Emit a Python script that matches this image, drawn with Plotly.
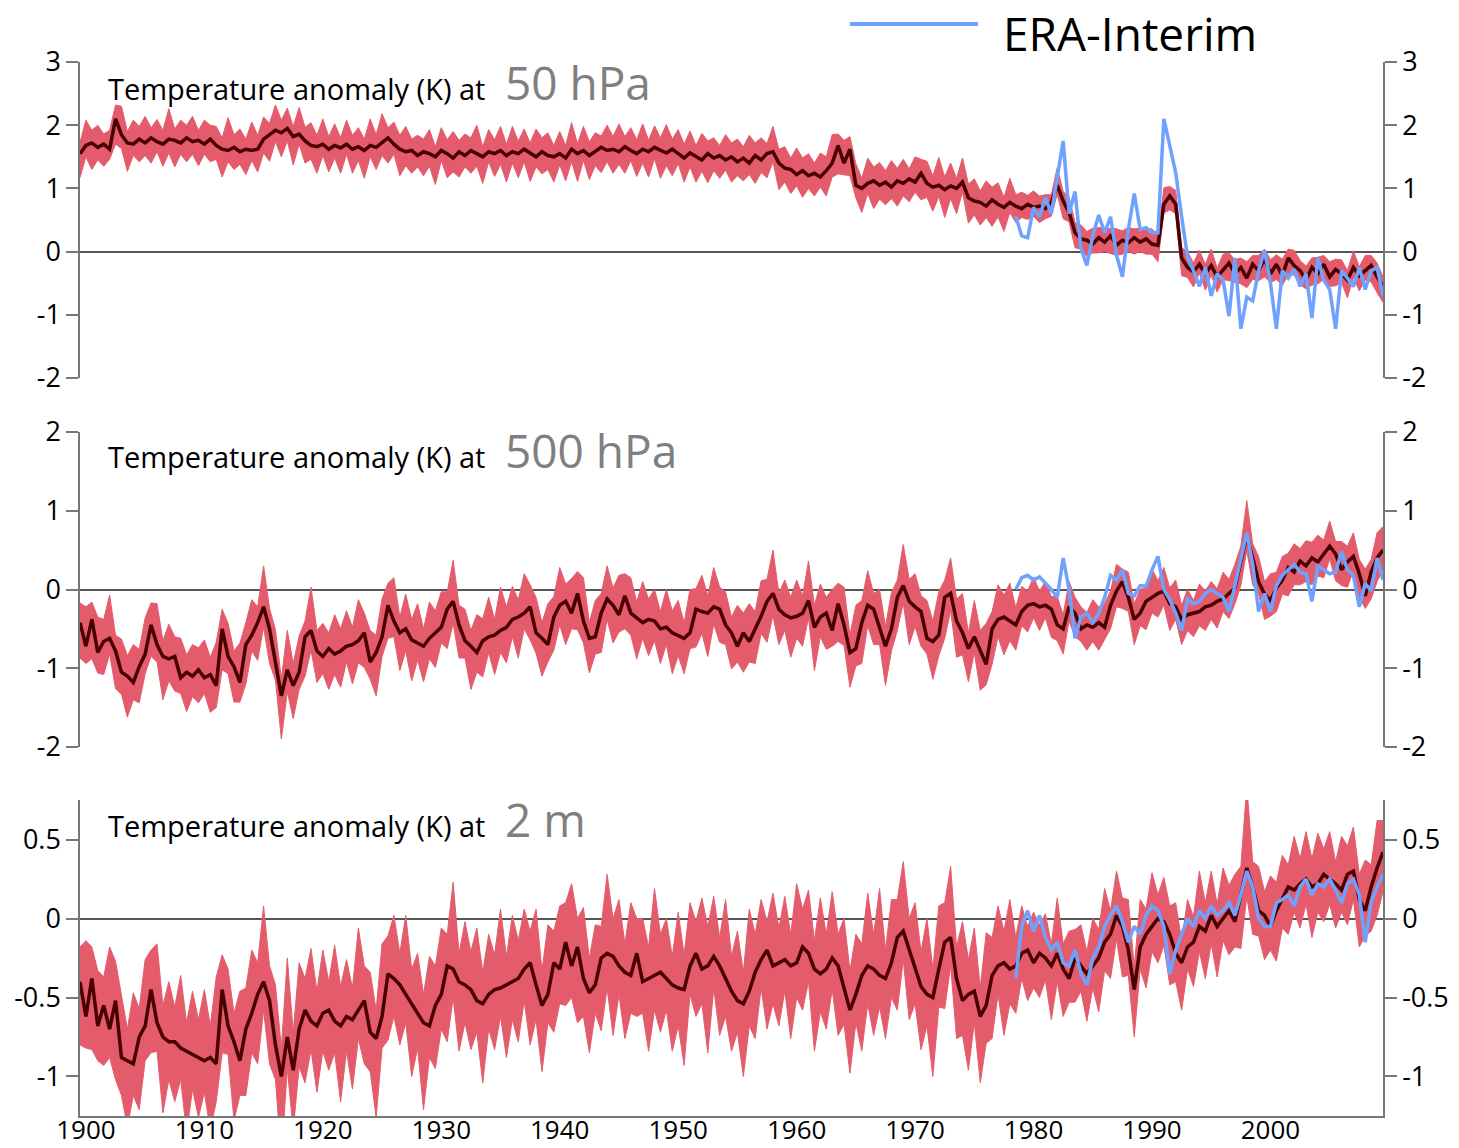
import numpy as np
import plotly.graph_objects as go

# ---------------------------------------------------------------------------
# Data: half-yearly values, 1900.0 .. 2010.0 (221 points per series)
# ---------------------------------------------------------------------------
T0, DT = 1900.0, 0.5
ERA_T0 = 1979.0

# ---- 50 hPa -------------------------------------------------------------
mean_50 = [
    1.55, 1.68, 1.72, 1.65, 1.70, 1.62, 2.10, 1.85, 1.72, 1.70,
    1.78, 1.72, 1.80, 1.74, 1.70, 1.78, 1.76, 1.72, 1.80, 1.74,
    1.76, 1.70, 1.78, 1.68, 1.62, 1.60, 1.65, 1.58, 1.62, 1.60,
    1.62, 1.78, 1.85, 1.92, 1.88, 1.95, 1.82, 1.86, 1.75, 1.68,
    1.66, 1.70, 1.62, 1.68, 1.64, 1.70, 1.62, 1.66, 1.60, 1.68,
    1.65, 1.72, 1.80, 1.70, 1.62, 1.58, 1.60, 1.52, 1.58, 1.55,
    1.50, 1.60, 1.55, 1.48, 1.58, 1.52, 1.60, 1.55, 1.50, 1.58,
    1.55, 1.60, 1.52, 1.58, 1.55, 1.62, 1.56, 1.50, 1.58, 1.52,
    1.50, 1.55, 1.48, 1.62, 1.55, 1.60, 1.52, 1.58, 1.65, 1.60,
    1.62, 1.58, 1.66, 1.60, 1.55, 1.62, 1.58, 1.65, 1.60, 1.56,
    1.62, 1.55, 1.48, 1.56, 1.50, 1.45, 1.55, 1.48, 1.52, 1.45,
    1.50, 1.42, 1.48, 1.40, 1.52, 1.45, 1.55, 1.58, 1.40, 1.32,
    1.30, 1.22, 1.28, 1.20, 1.24, 1.18, 1.28, 1.40, 1.68, 1.40,
    1.62, 1.05, 1.00, 1.08, 1.12, 1.05, 1.10, 1.02, 1.12, 1.08,
    1.15, 1.10, 1.24, 1.08, 1.02, 1.05, 0.98, 1.04, 1.00, 1.10,
    0.85, 0.80, 0.78, 0.72, 0.82, 0.75, 0.70, 0.78, 0.72, 0.68,
    0.75, 0.70, 0.72, 0.68, 0.78, 1.05, 0.80, 0.62, 0.30, 0.20,
    0.18, 0.12, 0.22, 0.15, 0.25, 0.10, 0.18, 0.14, 0.22, 0.15,
    0.20, 0.12, 0.10, 0.75, 0.88, 0.75, -0.10, -0.25, -0.32, -0.20,
    -0.35, -0.22, -0.40, -0.28, -0.18, -0.35, -0.25, -0.42, -0.20, -0.30,
    -0.12, -0.35, -0.20, -0.38, -0.10, -0.22, -0.30, -0.45, -0.25, -0.35,
    -0.20, -0.40, -0.28, -0.35, -0.45, -0.25, -0.38, -0.30, -0.22, -0.40,
    -0.55,
]
spread_hi_50 = [
    .18, .40, .20, .35, .16, .30, .22, .45, .18, .38,
    .20, .42, .16, .35, .22, .48, .18, .36, .20, .40,
    .16, .38, .22, .30, .18, .52, .20, .36, .16, .45,
    .22, .35, .18, .40, .20, .32, .16, .42, .22, .36,
    .18, .40, .20, .34, .16, .38, .22, .30, .18, .42,
    .20, .46, .16, .35, .22, .40, .18, .32, .20, .38,
    .16, .36, .22, .42, .18, .34, .20, .45, .16, .35,
    .22, .38, .18, .40, .20, .32, .16, .44, .22, .36,
    .18, .35, .20, .42, .16, .38, .22, .30, .18, .40,
    .20, .44, .16, .36, .22, .40, .18, .34, .20, .45,
    .16, .38, .22, .35, .18, .42, .20, .32, .16, .40,
    .22, .36, .18, .44, .20, .35, .16, .40, .22, .34,
    .18, .42, .20, .35, .16, .38, .22, .45, .18, .36,
    .20, .34, .16, .40, .22, .36, .18, .42, .20, .38,
    .16, .40, .22, .35, .18, .44, .20, .36, .16, .38,
    .22, .35, .18, .40, .20, .34, .16, .38, .18, .26,
    .14, .26, .16, .22, .12, .28, .15, .24, .16, .22,
    .14, .25, .16, .22, .12, .26, .15, .24, .14, .22,
    .16, .24, .14, .26, .15, .22, .16, .25, .14, .22,
    .15, .26, .14, .24, .16, .22, .15, .26, .14, .24,
    .16, .22, .15, .26, .14, .24, .16, .22, .15, .26,
    .14, .24, .16, .22, .15, .26, .14, .24, .16, .22,
    .15,
]
spread_lo_50 = [
    .38, .18, .42, .20, .35, .16, .40, .22, .45, .18,
    .36, .20, .40, .16, .35, .22, .42, .18, .38, .20,
    .40, .16, .36, .22, .44, .18, .35, .20, .40, .16,
    .36, .22, .42, .18, .38, .20, .45, .16, .35, .22,
    .42, .18, .36, .20, .40, .16, .38, .22, .44, .18,
    .35, .20, .40, .16, .42, .22, .36, .18, .38, .20,
    .44, .16, .38, .22, .40, .18, .36, .20, .42, .16,
    .36, .22, .42, .18, .38, .20, .45, .16, .35, .22,
    .40, .18, .36, .20, .44, .16, .38, .22, .40, .18,
    .38, .20, .42, .16, .36, .22, .40, .18, .44, .20,
    .42, .16, .38, .22, .40, .18, .46, .20, .36, .16,
    .40, .22, .36, .18, .44, .20, .38, .16, .42, .22,
    .38, .18, .42, .20, .36, .16, .40, .22, .45, .18,
    .42, .20, .38, .16, .44, .22, .36, .18, .40, .20,
    .36, .16, .42, .22, .38, .18, .44, .20, .40, .16,
    .40, .22, .36, .18, .42, .20, .38, .16, .26, .14,
    .24, .14, .26, .16, .22, .14, .28, .15, .24, .16,
    .26, .14, .24, .15, .28, .16, .22, .14, .26, .15,
    .24, .16, .26, .14, .22, .15, .28, .16, .24, .14,
    .26, .15, .24, .16, .28, .14, .26, .15, .24, .16,
    .28, .14, .24, .16, .26, .15, .22, .14, .28, .16,
    .24, .15, .26, .14, .28, .16, .24, .15, .26, .25,
    .25,
]
era_50 = [
    0.56, 0.25, 0.22, 0.70, 0.55, 0.85, 0.60, 1.20, 1.75, 0.60,
    0.95, 0.05, -0.22, 0.25, 0.58, 0.30, 0.55, -0.05, -0.40, 0.35,
    0.92, 0.35, 0.38, 0.30, 0.30, 2.10, 1.65, 1.25, 0.55, -0.08,
    -0.30, -0.55, -0.25, -0.70, -0.35, -0.45, -1.02, -0.10, -1.22, -0.72,
    -0.78, -0.30, 0.02, -0.50, -1.22, -0.30, -0.42, -0.28, -0.55, -0.35,
    -1.05, -0.10, -0.45, -0.60, -1.22, -0.30, -0.42, -0.55, -0.25, -0.60,
    -0.30, -0.25, -0.70,
]

# ---- 500 hPa ------------------------------------------------------------
mean_500 = [
    -0.42, -0.72, -0.38, -0.80, -0.66, -0.62, -0.78, -1.05, -1.10, -1.18,
    -0.98, -0.82, -0.45, -0.70, -0.85, -0.88, -0.85, -1.12, -1.05, -1.10,
    -1.02, -1.12, -1.08, -1.22, -0.50, -0.85, -0.98, -1.18, -0.70, -0.58,
    -0.42, -0.22, -0.50, -0.95, -1.35, -1.02, -1.22, -1.05, -0.60, -0.52,
    -0.78, -0.85, -0.75, -0.82, -0.78, -0.72, -0.70, -0.65, -0.55, -0.92,
    -0.80, -0.60, -0.20, -0.40, -0.55, -0.50, -0.64, -0.68, -0.72, -0.62,
    -0.55, -0.48, -0.25, -0.15, -0.45, -0.65, -0.72, -0.80, -0.65, -0.60,
    -0.58, -0.52, -0.48, -0.38, -0.35, -0.30, -0.22, -0.55, -0.62, -0.70,
    -0.35, -0.20, -0.15, -0.30, -0.05, -0.40, -0.62, -0.60, -0.30, -0.12,
    -0.20, -0.32, -0.08, -0.30, -0.36, -0.42, -0.38, -0.40, -0.50, -0.48,
    -0.55, -0.58, -0.62, -0.55, -0.25, -0.28, -0.30, -0.22, -0.25, -0.45,
    -0.55, -0.72, -0.55, -0.66, -0.50, -0.34, -0.15, -0.05, -0.25, -0.32,
    -0.36, -0.34, -0.30, -0.14, -0.48, -0.35, -0.30, -0.52, -0.18, -0.45,
    -0.80, -0.75, -0.42, -0.20, -0.25, -0.50, -0.72, -0.50, -0.10, 0.05,
    -0.15, -0.22, -0.28, -0.62, -0.66, -0.58, -0.10, -0.05, -0.40, -0.55,
    -0.75, -0.60, -0.78, -0.95, -0.50, -0.38, -0.35, -0.40, -0.45, -0.28,
    -0.20, -0.18, -0.22, -0.20, -0.25, -0.45, -0.50, -0.22, -0.30, -0.50,
    -0.45, -0.48, -0.42, -0.48, -0.20, -0.02, 0.10, -0.10, -0.38, -0.30,
    -0.15, -0.10, -0.05, -0.02, -0.18, -0.22, -0.38, -0.32, -0.30, -0.28,
    -0.22, -0.20, -0.15, -0.12, -0.05, 0.02, 0.35, 0.68, 0.40, 0.10,
    -0.06, -0.14, 0.02, 0.12, 0.28, 0.22, 0.36, 0.30, 0.40, 0.35,
    0.45, 0.55, 0.45, 0.25, 0.35, 0.42, 0.20, -0.08, 0.22, 0.40,
    0.50,
]
spread_hi_500 = [
    .25, .50, .22, .45, .28, .55, .20, .42, .26, .48,
    .22, .46, .28, .52, .20, .44, .25, .50, .22, .40,
    .28, .48, .22, .55, .25, .42, .20, .50, .28, .45,
    .20, .52, .26, .44, .22, .50, .28, .46, .20, .55,
    .26, .42, .20, .50, .28, .45, .22, .52, .25, .40,
    .22, .48, .28, .55, .20, .44, .26, .50, .22, .46,
    .28, .45, .22, .52, .25, .40, .20, .48, .28, .50,
    .20, .55, .26, .42, .22, .50, .28, .45, .20, .52,
    .26, .48, .22, .44, .28, .55, .20, .46, .25, .42,
    .22, .50, .28, .45, .20, .52, .26, .40, .22, .48,
    .28, .44, .20, .55, .26, .46, .22, .50, .28, .42,
    .20, .52, .25, .48, .22, .45, .28, .55, .20, .44,
    .26, .46, .22, .50, .28, .42, .20, .52, .26, .48,
    .22, .55, .28, .44, .20, .50, .25, .46, .22, .52,
    .28, .42, .20, .48, .26, .55, .22, .45, .28, .50,
    .20, .46, .26, .52, .22, .44, .28, .48, .22, .32,
    .18, .34, .20, .30, .16, .36, .18, .32, .20, .28,
    .16, .35, .20, .30, .18, .34, .16, .32, .20, .30,
    .18, .36, .16, .30, .20, .34, .18, .32, .16, .35,
    .20, .30, .16, .34, .18, .30, .20, .45, .18, .32,
    .16, .34, .20, .30, .18, .36, .16, .32, .20, .34,
    .18, .32, .16, .36, .20, .30, .18, .34, .16, .32,
    .30,
]
spread_lo_500 = [
    .45, .22, .50, .26, .42, .20, .48, .28, .52, .22,
    .46, .25, .40, .22, .55, .28, .44, .20, .50, .26,
    .42, .20, .48, .28, .52, .22, .45, .25, .50, .20,
    .48, .26, .44, .20, .55, .28, .42, .22, .50, .25,
    .40, .22, .52, .26, .46, .20, .50, .28, .44, .22,
    .55, .25, .42, .20, .48, .28, .52, .22, .45, .26,
    .44, .20, .50, .28, .42, .22, .55, .25, .46, .20,
    .50, .28, .45, .22, .52, .20, .42, .26, .48, .22,
    .42, .25, .55, .20, .46, .28, .44, .22, .50, .26,
    .48, .22, .42, .28, .52, .20, .46, .25, .44, .22,
    .52, .26, .45, .20, .48, .28, .55, .22, .42, .25,
    .46, .20, .50, .26, .44, .22, .52, .28, .45, .20,
    .50, .28, .42, .22, .55, .25, .46, .20, .48, .26,
    .44, .22, .52, .26, .45, .20, .50, .28, .42, .22,
    .55, .25, .44, .20, .48, .26, .52, .22, .46, .28,
    .42, .20, .50, .26, .45, .22, .48, .25, .32, .18,
    .34, .18, .30, .16, .36, .20, .32, .18, .30, .16,
    .32, .18, .35, .16, .30, .20, .34, .18, .32, .16,
    .36, .20, .30, .18, .34, .16, .32, .20, .30, .18,
    .30, .18, .34, .16, .32, .20, .30, .18, .34, .16,
    .32, .20, .30, .18, .36, .16, .30, .20, .34, .18,
    .30, .16, .34, .20, .32, .18, .30, .16, .34, .30,
    .25,
]
era_500 = [
    0.00, 0.15, 0.18, 0.12, 0.16, 0.08, 0.00, -0.10, 0.40, 0.00,
    -0.62, -0.35, -0.30, -0.42, -0.30, -0.10, 0.18, 0.12, 0.25, -0.05,
    -0.08, 0.05, 0.04, 0.25, 0.42, 0.00, -0.13, -0.30, -0.52, -0.12,
    -0.18, -0.15, -0.05, 0.00, -0.05, -0.10, -0.28, 0.05, 0.35, 0.72,
    0.32, -0.28, -0.05, -0.28, 0.05, 0.18, 0.25, 0.32, 0.22, 0.20,
    -0.15, 0.30, 0.25, 0.20, 0.22, 0.48, 0.25, 0.18, -0.22, 0.08,
    -0.02, 0.40, 0.12,
]

# ---- 2 m ----------------------------------------------------------------
mean_2m = [
    -0.40, -0.62, -0.38, -0.68, -0.55, -0.70, -0.52, -0.88, -0.90, -0.92,
    -0.75, -0.68, -0.45, -0.66, -0.75, -0.78, -0.78, -0.82, -0.84, -0.86,
    -0.88, -0.90, -0.88, -0.92, -0.45, -0.68, -0.78, -0.90, -0.70, -0.60,
    -0.48, -0.40, -0.52, -0.80, -1.00, -0.75, -0.96, -0.70, -0.58, -0.65,
    -0.68, -0.60, -0.58, -0.65, -0.68, -0.62, -0.64, -0.58, -0.52, -0.72,
    -0.76, -0.62, -0.35, -0.38, -0.42, -0.48, -0.54, -0.60, -0.66, -0.68,
    -0.55, -0.48, -0.30, -0.32, -0.40, -0.42, -0.45, -0.52, -0.54, -0.48,
    -0.45, -0.44, -0.42, -0.40, -0.38, -0.32, -0.28, -0.42, -0.55, -0.48,
    -0.28, -0.32, -0.15, -0.30, -0.18, -0.38, -0.47, -0.42, -0.25, -0.22,
    -0.24, -0.30, -0.34, -0.36, -0.22, -0.40, -0.38, -0.36, -0.34, -0.38,
    -0.42, -0.44, -0.45, -0.30, -0.22, -0.32, -0.30, -0.24, -0.30, -0.38,
    -0.46, -0.52, -0.54, -0.46, -0.34, -0.26, -0.20, -0.30, -0.28, -0.26,
    -0.30, -0.28, -0.18, -0.22, -0.32, -0.35, -0.32, -0.25, -0.30, -0.45,
    -0.58, -0.48, -0.36, -0.30, -0.32, -0.36, -0.38, -0.28, -0.12, -0.08,
    -0.20, -0.32, -0.43, -0.48, -0.50, -0.32, -0.15, -0.12, -0.38, -0.52,
    -0.48, -0.46, -0.62, -0.55, -0.36, -0.30, -0.28, -0.32, -0.30, -0.22,
    -0.20, -0.28, -0.22, -0.25, -0.30, -0.22, -0.32, -0.38, -0.25, -0.30,
    -0.35, -0.30, -0.25, -0.15, -0.10, 0.02, -0.05, -0.20, -0.45, -0.18,
    -0.10, -0.05, 0.00, -0.02, -0.10, -0.22, -0.28, -0.18, -0.15, -0.05,
    -0.08, 0.02, -0.05, 0.00, 0.05, -0.02, 0.15, 0.32, 0.20, 0.05,
    0.02, -0.05, 0.05, 0.12, 0.20, 0.18, 0.22, 0.25, 0.20, 0.22,
    0.28, 0.25, 0.22, 0.18, 0.28, 0.30, 0.12, 0.05, 0.20, 0.32,
    0.42,
]
spread_hi_2m = [
    .22, .48, .20, .35, .18, .52, .25, .40, .20, .45,
    .18, .42, .25, .50, .20, .38, .22, .46, .18, .40,
    .24, .45, .20, .55, .22, .36, .18, .44, .26, .40,
    .20, .48, .22, .38, .18, .50, .24, .42, .20, .46,
    .22, .40, .18, .48, .25, .36, .20, .52, .22, .38,
    .18, .46, .24, .40, .20, .50, .22, .38, .18, .44,
    .25, .42, .20, .55, .18, .40, .24, .46, .20, .38,
    .22, .50, .18, .42, .24, .38, .20, .48, .22, .44,
    .20, .40, .25, .52, .18, .45, .22, .38, .20, .50,
    .24, .42, .18, .46, .22, .40, .20, .55, .24, .38,
    .18, .48, .22, .40, .20, .45, .25, .38, .18, .50,
    .22, .44, .20, .52, .24, .38, .18, .46, .22, .40,
    .20, .50, .24, .40, .18, .48, .22, .42, .20, .45,
    .25, .38, .20, .46, .22, .55, .18, .40, .24, .44,
    .20, .42, .22, .48, .18, .40, .25, .45, .20, .50,
    .22, .40, .18, .46, .24, .38, .20, .44, .18, .30,
    .15, .32, .18, .28, .14, .35, .16, .30, .18, .26,
    .14, .30, .18, .34, .15, .28, .18, .32, .14, .30,
    .16, .34, .15, .28, .18, .32, .14, .30, .16, .35,
    .18, .28, .14, .32, .16, .30, .18, .52, .16, .28,
    .15, .32, .18, .28, .14, .34, .16, .30, .18, .32,
    .16, .30, .14, .34, .18, .28, .16, .32, .14, .30,
    .20,
]
spread_lo_2m = [
    .40, .20, .45, .22, .38, .18, .50, .24, .42, .20,
    .46, .22, .40, .18, .48, .24, .38, .20, .52, .22,
    .38, .20, .46, .24, .40, .18, .50, .22, .42, .25,
    .44, .18, .40, .22, .52, .20, .38, .24, .46, .18,
    .42, .24, .38, .20, .48, .22, .44, .18, .40, .25,
    .50, .20, .42, .24, .38, .18, .46, .22, .55, .20,
    .40, .22, .48, .18, .44, .24, .38, .20, .50, .22,
    .38, .18, .46, .24, .40, .20, .52, .22, .42, .18,
    .44, .22, .40, .20, .48, .24, .38, .18, .46, .22,
    .50, .18, .42, .24, .40, .20, .46, .22, .38, .20,
    .42, .24, .48, .18, .40, .22, .55, .20, .44, .24,
    .38, .20, .46, .22, .42, .18, .50, .24, .40, .20,
    .46, .22, .40, .18, .52, .24, .38, .20, .44, .22,
    .40, .18, .48, .24, .42, .20, .38, .22, .46, .18,
    .44, .22, .40, .20, .50, .24, .42, .18, .38, .22,
    .48, .20, .42, .24, .40, .18, .46, .22, .30, .16,
    .32, .16, .28, .14, .34, .18, .30, .15, .28, .16,
    .30, .14, .34, .18, .28, .15, .32, .16, .30, .14,
    .34, .16, .28, .15, .32, .18, .30, .14, .28, .16,
    .30, .18, .32, .14, .28, .16, .34, .18, .30, .16,
    .28, .15, .32, .18, .30, .14, .28, .16, .32, .18,
    .30, .16, .28, .14, .32, .18, .30, .16, .28, .30,
    .25,
]
era_2m = [
    -0.38, -0.05, 0.05, -0.08, 0.02, -0.12, -0.20, -0.15, -0.28, -0.30,
    -0.20, -0.35, -0.42, -0.25, -0.18, -0.05, 0.02, 0.08, -0.02, -0.15,
    -0.05, -0.10, 0.02, 0.08, 0.05, -0.05, -0.35, -0.20, -0.10, 0.00,
    -0.05, 0.05, 0.00, 0.08, 0.02, 0.05, 0.10, 0.02, 0.15, 0.30,
    0.20, 0.00, -0.05, -0.05, 0.10, 0.12, 0.15, 0.08, 0.20, 0.25,
    0.15, 0.22, 0.20, 0.25, 0.18, 0.10, 0.22, 0.25, 0.15, -0.15,
    0.10, 0.20, 0.28,
]

# Axis labelling
level_names = ["50 hPa", "500 hPa", "2 m"]
y_ranges = [[-2, 3], [-2, 2], [-1.25, 0.75]]
y_ticks = [[-2, -1, 0, 1, 2, 3], [-2, -1, 0, 1, 2], [-1, -0.5, 0, 0.5]]
y_ticktext = [["-2", "-1", "0", "1", "2", "3"], ["-2", "-1", "0", "1", "2"],
              ["-1", "-0.5", "0", "0.5"]]
decades = [1900, 1910, 1920, 1930, 1940, 1950, 1960, 1970, 1980, 1990, 2000]

# ---------------------------------------------------------------------------
RED = "#e45c6b"
DARK = "#4a0000"
BLUE = "#6fa2ff"
AXIS = "#777777"
FONT = "Open Sans"

panels = [
    (mean_50, spread_hi_50, spread_lo_50, era_50),
    (mean_500, spread_hi_500, spread_lo_500, era_500),
    (mean_2m, spread_hi_2m, spread_lo_2m, era_2m),
]
# vertical extent of each panel (paper coordinates)
domains = [[0.6707, 0.9460], [0.3493, 0.6237], [0.0279, 0.3031]]

fig = go.Figure()
for k, (mean, hi, lo, era) in enumerate(panels):
    mean = np.asarray(mean)
    assert len(mean) == len(hi) == len(lo) == 221, k
    t = T0 + DT * np.arange(len(mean))
    t_era = ERA_T0 + DT * np.arange(len(era))
    upper = mean + np.asarray(hi)
    lower = mean - np.asarray(lo)
    xa = "x" if k == 0 else f"x{k + 1}"
    ya = "y" if k == 0 else f"y{k + 1}"
    ya_right = f"y{k + 4}"
    fig.add_trace(go.Scatter(x=t, y=lower, mode="lines", xaxis=xa, yaxis=ya,
                             line=dict(color=RED, width=1), showlegend=False,
                             hoverinfo="skip"))
    fig.add_trace(go.Scatter(x=t, y=upper, mode="lines", xaxis=xa, yaxis=ya,
                             line=dict(color=RED, width=1), fill="tonexty",
                             fillcolor=RED, showlegend=False, hoverinfo="skip"))
    fig.add_trace(go.Scatter(x=t, y=mean, mode="lines", xaxis=xa, yaxis=ya,
                             line=dict(color=DARK, width=3.5), showlegend=False))
    # reanalysis drawn against the right-hand axis (same scale as the left)
    fig.add_trace(go.Scatter(x=t_era, y=era, mode="lines", xaxis=xa,
                             yaxis=ya_right, line=dict(color=BLUE, width=3.5),
                             name="ERA-Interim", showlegend=False))

layout = dict(
    width=1459, height=1148,
    margin=dict(l=80, r=76, t=0, b=0, autoexpand=False),
    paper_bgcolor="white", plot_bgcolor="white",
    font=dict(family=FONT, size=27, color="black"),
    showlegend=False,
)

for k in range(3):
    xs = "xaxis" if k == 0 else f"xaxis{k + 1}"
    ys = "yaxis" if k == 0 else f"yaxis{k + 1}"
    ya = "y" if k == 0 else f"y{k + 1}"
    xa = "x" if k == 0 else f"x{k + 1}"
    bottom = (k == 2)
    layout[xs] = dict(
        domain=[0, 1], range=[1900, 2010], anchor=ya,
        showgrid=False, zeroline=False, showline=bottom, linecolor=AXIS,
        linewidth=1.5, ticks="", showticklabels=bottom, automargin=False,
        tickvals=[d + 0.5 for d in decades], ticktext=[str(d) for d in decades],
        tickfont=dict(size=26, family=FONT), ticklabelstandoff=-10,
    )
    common_y = dict(
        domain=domains[k], range=y_ranges[k], showgrid=False,
        showline=True, linecolor=AXIS, linewidth=1.5, automargin=False,
        ticks="outside", ticklen=12, tickwidth=1.5, tickcolor=AXIS,
        tickvals=y_ticks[k], ticktext=y_ticktext[k],
        tickfont=dict(size=27, family=FONT),
    )
    layout[ys] = dict(common_y, anchor=xa, side="left", zeroline=True,
                      zerolinecolor="#555555", zerolinewidth=1.5)
    layout[f"yaxis{k + 4}"] = dict(common_y, anchor=xa, overlaying=ya,
                                   side="right", zeroline=False)

# panel titles
title_y = [0.9290, 0.6076, 0.2870]
annotations = []
for k in range(3):
    annotations.append(dict(
        xref="paper", yref="paper", x=0.0200, y=title_y[k],
        xanchor="left", yanchor="middle", showarrow=False,
        text=("Temperature anomaly (K) at "
              f"<span style='font-size:46px;color:#7f7f7f'> {level_names[k]}</span>"),
        font=dict(size=29, family=FONT, color="black"),
    ))
# legend entry for the reanalysis line
annotations.append(dict(
    xref="paper", yref="paper", x=0.7070, y=0.9715, xanchor="left",
    yanchor="middle", showarrow=False, text="ERA-Interim",
    font=dict(size=46, family=FONT, color="black"),
))
layout["annotations"] = annotations
layout["shapes"] = [dict(type="line", xref="paper", yref="paper",
                         x0=0.5909, x1=0.6892, y0=0.9791, y1=0.9791,
                         line=dict(color=BLUE, width=4))]

fig.update_layout(**layout)
fig.write_html("out.html")
